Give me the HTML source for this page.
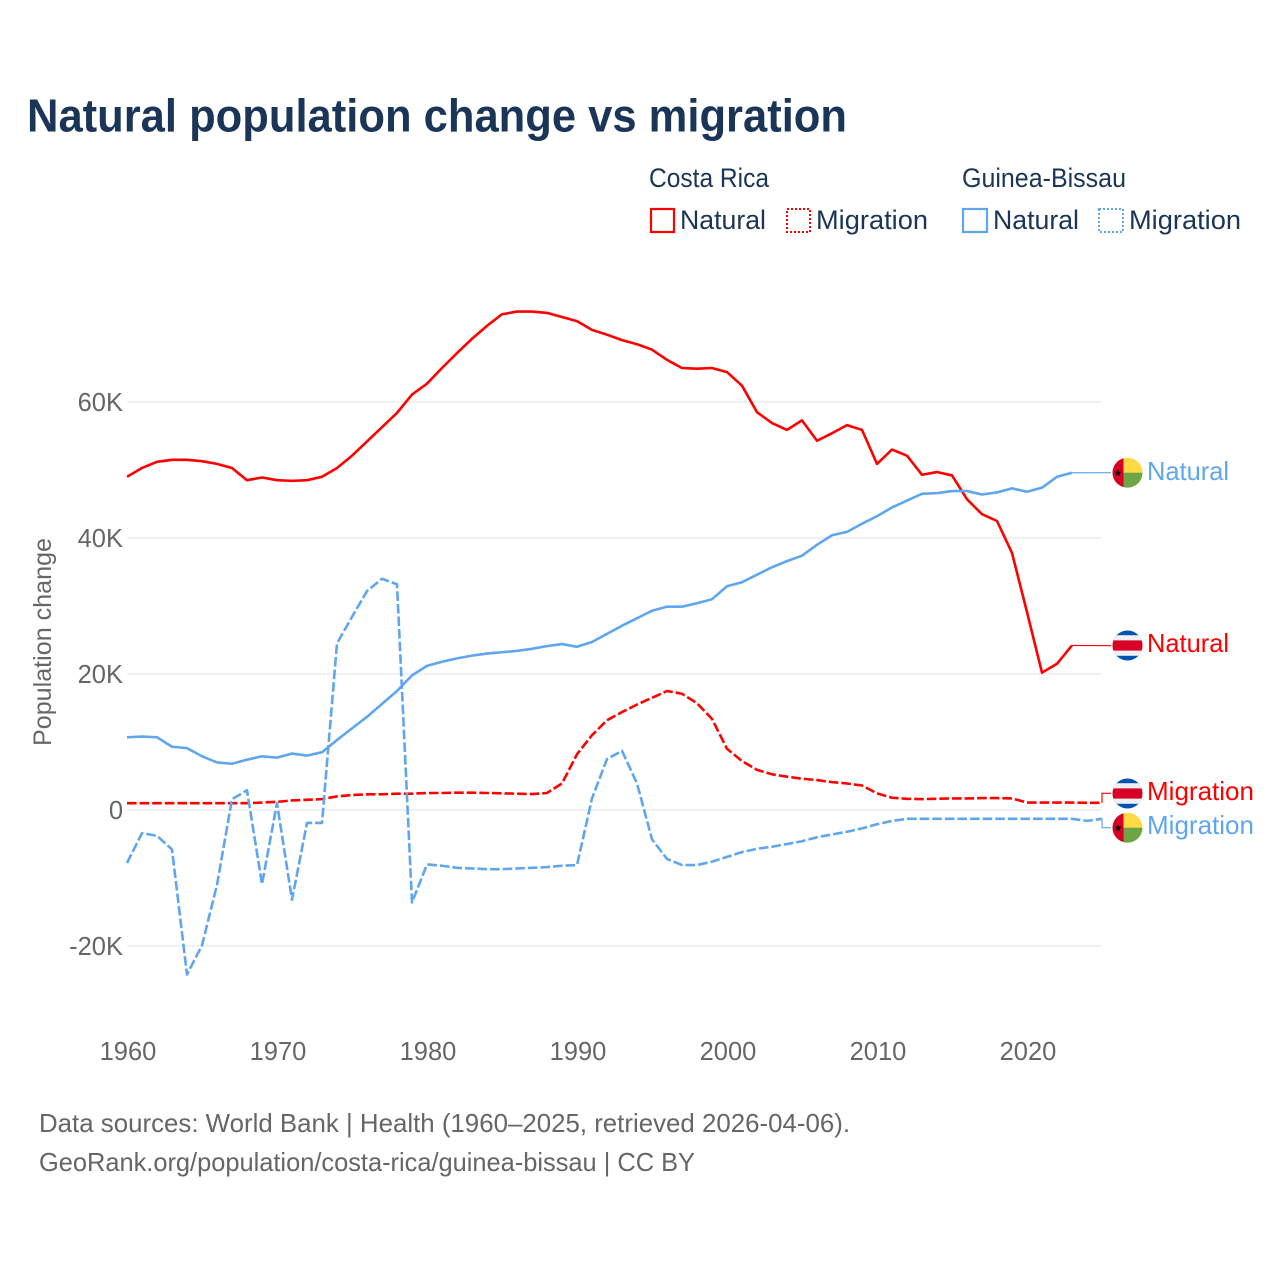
<!DOCTYPE html>
<html lang="en">
<head>
<meta charset="utf-8">
<title>Natural population change vs migration</title>
<style>
html,body{margin:0;padding:0;background:#fff;}
svg{display:block;font-family:"Liberation Sans",sans-serif;}
</style>
</head>
<body>
<svg id="chart" width="1280" height="1280" viewBox="0 0 1280 1280" xmlns="http://www.w3.org/2000/svg">
<defs>
<clipPath id="flagclip"><circle cx="0" cy="0" r="15"/></clipPath>
</defs>
<rect width="1280" height="1280" fill="#fff"/>
<text x="27" y="131.5" font-size="46" font-weight="700" fill="#1a3557" textLength="820" lengthAdjust="spacingAndGlyphs">Natural population change vs migration</text>

<g font-size="26.5" fill="#1a3557">
<text x="649" y="187" textLength="120" lengthAdjust="spacingAndGlyphs">Costa Rica</text>
<text x="962" y="187" textLength="164" lengthAdjust="spacingAndGlyphs">Guinea-Bissau</text>
<g>
<rect x="651" y="209" width="23" height="23" fill="none" stroke="#ff0000" stroke-width="2.2"/>
<text x="680" y="229" textLength="86" lengthAdjust="spacingAndGlyphs">Natural</text>
</g>
<g>
<rect x="787" y="209" width="23" height="23" fill="none" stroke="#ff0000" stroke-width="2" stroke-dasharray="2 2"/>
<text x="816" y="229" textLength="112" lengthAdjust="spacingAndGlyphs">Migration</text>
</g>
<g>
<rect x="963" y="209" width="24" height="23" fill="none" stroke="#5fa6ee" stroke-width="2.2"/>
<text x="993" y="229" textLength="86" lengthAdjust="spacingAndGlyphs">Natural</text>
</g>
<g>
<rect x="1099" y="209" width="24" height="23" fill="none" stroke="#5fa6ee" stroke-width="2" stroke-dasharray="2 2"/>
<text x="1129" y="229" textLength="112" lengthAdjust="spacingAndGlyphs">Migration</text>
</g>
</g>

<text transform="translate(51,746) rotate(-90)" font-size="25" fill="#666" textLength="208" lengthAdjust="spacingAndGlyphs">Population change</text>

<g id="grid"></g>
<g id="yticks" font-size="25.5" fill="#666"></g>
<g id="xticks" font-size="25.5" fill="#666"></g>
<g id="series"></g>

<g transform="translate(1127.5,472.7)">
<g clip-path="url(#flagclip)">
<rect x="-15" y="-15" width="30" height="30" fill="#ffda44"/>
<rect x="-4.5" y="0" width="20" height="15" fill="#6da544"/>
<rect x="-15" y="-15" width="11" height="30" fill="#d80027"/>
<polygon points="-9.5,-3.6 -8.6,-0.9 -5.8,-0.9 -8,0.8 -7.2,3.5 -9.5,1.9 -11.8,3.5 -11,0.8 -13.2,-0.9 -10.4,-0.9" fill="#000"/>
</g>
</g>
<g transform="translate(1127.5,645.5)">
<g clip-path="url(#flagclip)">
<rect x="-15" y="-15" width="30" height="30" fill="#0052b4"/>
<rect x="-15" y="-10.3" width="30" height="20.6" fill="#f0f0f0"/>
<rect x="-15" y="-5.1" width="30" height="10.2" fill="#d80027"/>
</g>
</g>
<g transform="translate(1127.5,793.5)">
<g clip-path="url(#flagclip)">
<rect x="-15" y="-15" width="30" height="30" fill="#0052b4"/>
<rect x="-15" y="-10.3" width="30" height="20.6" fill="#f0f0f0"/>
<rect x="-15" y="-5.1" width="30" height="10.2" fill="#d80027"/>
</g>
</g>
<g transform="translate(1127.5,827.7)">
<g clip-path="url(#flagclip)">
<rect x="-15" y="-15" width="30" height="30" fill="#ffda44"/>
<rect x="-4.5" y="0" width="20" height="15" fill="#6da544"/>
<rect x="-15" y="-15" width="11" height="30" fill="#d80027"/>
<polygon points="-9.5,-3.6 -8.6,-0.9 -5.8,-0.9 -8,0.8 -7.2,3.5 -9.5,1.9 -11.8,3.5 -11,0.8 -13.2,-0.9 -10.4,-0.9" fill="#000"/>
</g>
</g>

<g font-size="26">
<text x="1147" y="480" fill="#5fa6ee" textLength="82" lengthAdjust="spacingAndGlyphs">Natural</text>
<text x="1147" y="652" fill="#ff0000" textLength="82" lengthAdjust="spacingAndGlyphs">Natural</text>
<text x="1147" y="800" fill="#ff0000" textLength="107" lengthAdjust="spacingAndGlyphs">Migration</text>
<text x="1147" y="834" fill="#5fa6ee" textLength="107" lengthAdjust="spacingAndGlyphs">Migration</text>
</g>

<g font-size="26" fill="#666">
<text x="39" y="1132" textLength="811" lengthAdjust="spacingAndGlyphs">Data sources: World Bank | Health (1960–2025, retrieved 2026-04-06).</text>
<text x="39" y="1171" textLength="656" lengthAdjust="spacingAndGlyphs">GeoRank.org/population/costa-rica/guinea-bissau | CC BY</text>
</g>

<script>
const years = [1960,1961,1962,1963,1964,1965,1966,1967,1968,1969,1970,1971,1972,1973,1974,1975,1976,1977,1978,1979,1980,1981,1982,1983,1984,1985,1986,1987,1988,1989,1990,1991,1992,1993,1994,1995,1996,1997,1998,1999,2000,2001,2002,2003,2004,2005,2006,2007,2008,2009,2010,2011,2012,2013,2014,2015,2016,2017,2018,2019,2020,2021,2022,2023,2024,2025];
const costaRicaNatural = [49.0,50.3,51.2,51.5,51.5,51.3,50.9,50.3,48.5,48.9,48.5,48.4,48.5,49.0,50.3,52.1,54.2,56.3,58.4,61.1,62.7,65.0,67.2,69.3,71.2,72.9,73.3,73.3,73.1,72.5,71.9,70.6,69.9,69.1,68.5,67.7,66.2,65.0,64.9,65.0,64.4,62.4,58.5,56.9,55.9,57.3,54.3,55.4,56.6,55.9,50.9,53.0,52.1,49.3,49.7,49.2,45.7,43.5,42.5,37.8,29.1,20.2,21.5,24.2];
const guineaBissauNatural = [10.7,10.8,10.7,9.3,9.1,7.9,7.0,6.8,7.4,7.9,7.7,8.3,8.0,8.5,10.3,12.0,13.7,15.6,17.5,19.8,21.2,21.8,22.3,22.7,23.0,23.2,23.4,23.7,24.1,24.4,24.0,24.7,25.9,27.1,28.2,29.3,29.9,29.9,30.4,31.0,32.9,33.5,34.6,35.7,36.6,37.4,39.0,40.4,40.9,42.1,43.2,44.5,45.5,46.5,46.6,46.9,46.9,46.4,46.7,47.3,46.8,47.4,49.0,49.6];
const costaRicaMigration = [1.0,1.0,1.0,1.0,1.0,1.0,1.0,1.0,1.0,1.1,1.2,1.4,1.5,1.6,2.0,2.2,2.3,2.3,2.4,2.4,2.5,2.5,2.55,2.55,2.5,2.45,2.4,2.35,2.5,3.9,8.2,11.0,13.2,14.4,15.5,16.5,17.5,17.1,15.7,13.4,9.0,7.2,5.9,5.25,4.9,4.6,4.4,4.1,3.9,3.6,2.45,1.8,1.65,1.6,1.65,1.7,1.7,1.75,1.75,1.7,1.1,1.1,1.1,1.1,1.05,1.05];
const guineaBissauMigration = [-7.8,-3.4,-3.8,-5.8,-24.2,-19.9,-11.0,1.6,2.9,-10.9,1.0,-13.2,-1.9,-1.9,24.5,28.4,32.2,34.0,33.2,-13.6,-8.0,-8.2,-8.5,-8.6,-8.7,-8.7,-8.6,-8.5,-8.4,-8.2,-8.1,1.7,7.5,8.7,3.9,-4.3,-7.2,-8.1,-8.1,-7.6,-6.9,-6.2,-5.7,-5.4,-5.0,-4.6,-4.0,-3.6,-3.2,-2.7,-2.1,-1.6,-1.3,-1.3,-1.3,-1.3,-1.3,-1.3,-1.3,-1.3,-1.3,-1.3,-1.3,-1.3,-1.6,-1.3];
const yTickValues = [-20,0,20,40,60];
const yTickLabels = ["-20K","0","20K","40K","60K"];
const xTickValues = [1960,1970,1980,1990,2000,2010,2020];
const xTickLabels = ["1960","1970","1980","1990","2000","2010","2020"];

const NS = "http://www.w3.org/2000/svg";
function xScale(year){ return 127 + (year - 1960) * 15; }
function yScale(k){ return 810 - k * 6.8; }
function make(tag, parentId, attrs){
  const el = document.createElementNS(NS, tag);
  for (const key in attrs) el.setAttribute(key, attrs[key]);
  document.getElementById(parentId).appendChild(el);
  return el;
}

yTickValues.forEach(function(v, i){
  const line = make("line", "grid", {x1:127, x2:1102, y1:yScale(v), y2:yScale(v), stroke:"#eeeeee", "stroke-width":1.6});
  
  
  const label = make("text", "yticks", {x:123, y:yScale(v) + 9, "text-anchor":"end"});
  label.textContent = yTickLabels[i];
  
  
});

xTickValues.forEach(function(v, i){
  const label = make("text", "xticks", {x:xScale(v) + 1, y:1060, "text-anchor":"middle"});
  label.textContent = xTickLabels[i];
  
  
});

function linePath(values){
  return values.map(function(v, i){
    return (i ? "L" : "M") + xScale(years[i]) + " " + yScale(v).toFixed(2);
  }).join(" ");
}

function drawSeries(values, color, dash, labelY, seriesName){
  const path = make("path", "series", {d:linePath(values), fill:"none", stroke:color, "stroke-width":2.6, "stroke-linejoin":"round"});
  if (dash) path.setAttribute("stroke-dasharray", dash);
  
  
  const last = values.length - 1;
  const endX = xScale(years[last]);
  const endY = yScale(values[last]);
  const elbow = dash ? "L" + endX + " " + labelY : "";
  const connector = make("path", "series", {d:"M" + endX + " " + endY + " " + elbow + " L1111 " + labelY, fill:"none", stroke:color, "stroke-width":1.2});
  
  
}

drawSeries(costaRicaNatural, "#ff0000", "", 645.7, "line-costa-rica-natural");
drawSeries(guineaBissauNatural, "#5fa6ee", "", 472.7, "line-guinea-bissau-natural");
drawSeries(costaRicaMigration, "#ff0000", "9.6 3", 793.3, "line-costa-rica-migration");
drawSeries(guineaBissauMigration, "#5fa6ee", "9.6 3", 827.7, "line-guinea-bissau-migration");
</script>
</svg>
</body>
</html>
